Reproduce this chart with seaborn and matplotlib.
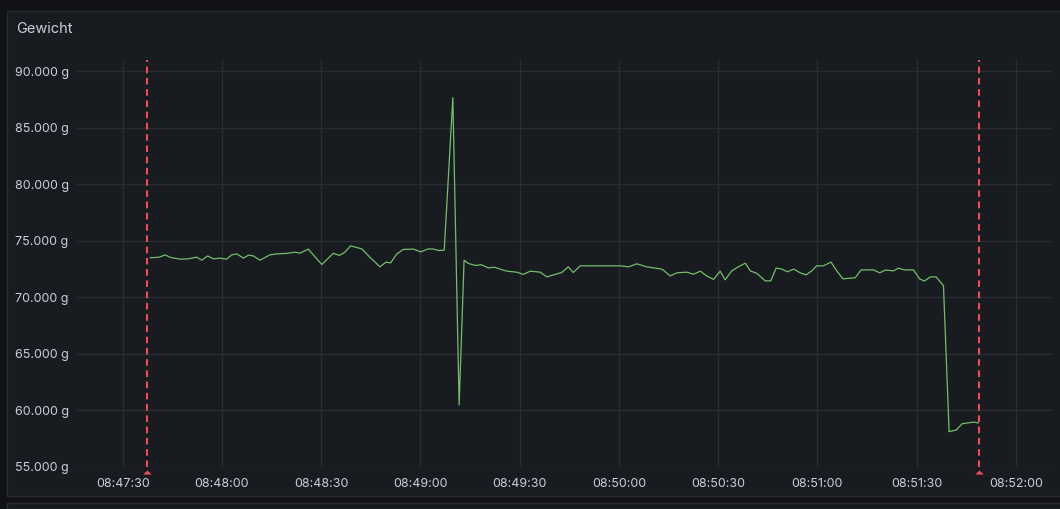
import pandas as pd
import seaborn as sns
import numpy as np
import matplotlib.pyplot as plt
import matplotlib.dates as mdates
import matplotlib.transforms as mtransforms
from matplotlib.patches import Rectangle
from matplotlib.ticker import FuncFormatter

# Sekunden ab 08:47:30 und Gewicht in g
sekunden = [8.3, 11.1, 12.8, 14.5, 17.3, 19.8, 22.4, 23.9, 25.7, 27.4, 29.4, 31.4, 33.0, 34.5,
            36.5, 38.0, 39.5, 41.5, 44.5, 46.6, 49.6, 52.1, 53.6, 56.1, 60.2, 63.7, 65.5, 67.2,
            68.9, 72.3, 74.8, 77.8, 79.6, 81.0, 82.8, 84.8, 87.9, 90.1, 92.4, 94.1, 95.4, 97.2,
            99.8, 101.7, 103.2, 104.5, 106.5, 108.5, 110.5, 112.3, 114.1, 116.1, 119.1, 121.1,
            123.2, 126.2, 128.2, 130.7, 132.7, 134.7, 136.2, 138.3, 142.3, 146.3, 150.4, 152.9,
            155.4, 158.4, 163.0, 165.5, 167.5, 170.5, 172.5, 174.6, 176.6, 178.6, 180.6, 182.1,
            184.1, 186.1, 188.2, 189.7, 191.7, 194.2, 195.9, 197.5, 199.3, 200.9, 202.8, 204.8,
            206.6, 208.3, 209.8, 211.8, 214.1, 215.9, 217.7, 221.4, 223.2, 227.0, 228.8, 230.5,
            233.0, 234.5, 236.2, 239.0, 240.9, 242.3, 244.1, 245.9, 248.1, 249.8, 252.0, 253.7,
            257.2, 258.7]
gewicht = [73490, 73550, 73750, 73520, 73370, 73400, 73550, 73280, 73660, 73400, 73460, 73370,
           73750, 73840, 73460, 73720, 73660, 73280, 73750, 73840, 73880, 73990, 73900, 74260,
           72900, 73900, 73700, 73990, 74550, 74280, 73520, 72690, 73110, 73040, 73810, 74230,
           74260, 74020, 74280, 74260, 74140, 74170, 87670, 60460, 73280, 72990, 72820, 72870,
           72600, 72660, 72490, 72310, 72220, 72020, 72310, 72220, 71800, 72020, 72190, 72690,
           72190, 72780, 72780, 72780, 72780, 72690, 72960, 72690, 72490, 71890, 72160, 72220,
           72040, 72310, 71870, 71580, 72310, 71540, 72340, 72690, 73020, 72340, 72110, 71450,
           71450, 72580, 72490, 72250, 72490, 72160, 71980, 72340, 72780, 72780, 73110, 72310,
           71630, 71720, 72420, 72420, 72160, 72400, 72340, 72580, 72420, 72420, 71630, 71430,
           71800, 71800, 71010, 58100, 58250, 58800, 58950, 58870]
markierungen = [7.35, 258.9]

basis = pd.Timestamp("2024-01-01 08:47:30")
df = pd.DataFrame({"zeit": basis + pd.to_timedelta(sekunden, unit="s"), "gewicht": gewicht})
marken = basis + pd.to_timedelta(markierungen, unit="s")

sns.set_theme(style="dark")
plt.rcParams['font.family'] = ['Inter', 'DejaVu Sans']

fig = plt.figure(figsize=(10.6, 5.09), dpi=100, facecolor="#111217")
# Panel-Hintergrund
fig.patches.append(Rectangle((7 / 1060, 1 - 496 / 509), 1.0, 485 / 509, transform=fig.transFigure,
                             facecolor="#181b1f", edgecolor="#2a2c31", lw=1, zorder=-10))
fig.patches.append(Rectangle((7 / 1060, 0), 1.0, 6 / 509, transform=fig.transFigure,
                             facecolor="#181b1f", edgecolor="#2a2c31", lw=1, zorder=-10))
fig.text(16 / 1060, 1 - 29 / 509, "Gewicht", color="#ccccdc", fontsize=10.5, va="center", ha="left")

ax = fig.add_axes([77 / 1060, 1 - 466.7 / 509, (1052 - 77) / 1060, (466.7 - 60) / 509])
ax.set_facecolor("none")

sns.lineplot(data=df, x="zeit", y="gewicht", ax=ax, color="#73bf69", linewidth=0.9)

for m in marken:
    ax.axvline(m, color="#f2495c", linestyle=(0, (3.2, 2.2)), linewidth=1.5, zorder=3)
# kleine Dreiecke unter der Achse
dreieck = [(-1.0, -0.5), (1.0, -0.5), (0.0, 0.5)]
runter = ax.transData + mtransforms.ScaledTranslation(0, -3.5 / 72, fig.dpi_scale_trans)
ax.plot(marken, [55000] * len(marken), linestyle="none", marker=dreieck, markersize=6,
        color="#f2495c", markeredgewidth=0, clip_on=False, zorder=4, transform=runter)

ax.set_xlim(basis - pd.Timedelta(seconds=13.8), basis + pd.Timedelta(seconds=280.9))
ax.set_ylim(55000, 91000)
ax.set_yticks(np.arange(55000, 90001, 5000))
ax.yaxis.set_major_formatter(FuncFormatter(lambda v, p: f"{v:,.0f} g".replace(",", ".")))
ax.xaxis.set_major_locator(mdates.SecondLocator(bysecond=[0, 30]))
ax.xaxis.set_major_formatter(mdates.DateFormatter("%H:%M:%S"))

ax.grid(True, color="#2a2d32", linewidth=1)
ax.tick_params(axis="both", length=0, colors="#c7d0d9", labelsize=9)
ax.tick_params(axis="x", pad=8)
ax.tick_params(axis="y", pad=6)
for s in ax.spines.values():
    s.set_visible(False)
ax.set_xlabel("")
ax.set_ylabel("")

fig.savefig("out.png", dpi=100, facecolor=fig.get_facecolor())
